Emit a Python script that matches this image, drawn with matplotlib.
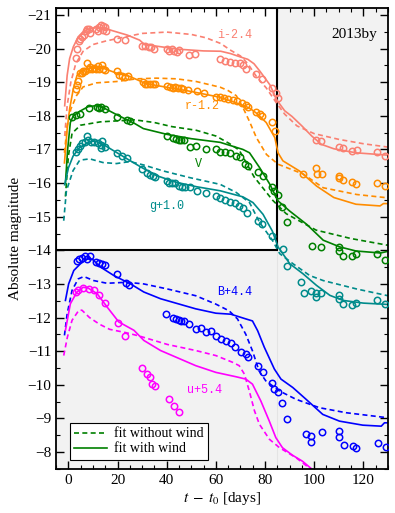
import matplotlib
matplotlib.use("Agg")
import matplotlib.pyplot as plt
from matplotlib.patches import Rectangle
from matplotlib.ticker import MultipleLocator

plt.rcParams['font.family'] = ['Liberation Serif', 'DejaVu Serif']
plt.rcParams['mathtext.fontset'] = 'stix'

# observed photometry (days since explosion, absolute magnitude incl. offset)
i_t = [3.0, 3.5, 4.4, 4.9, 5.7, 6.5, 7.1, 7.6, 8.4, 8.7, 11.4, 12.0, 12.5, 13.3, 13.9, 14.1, 15.0, 15.2,
       19.9, 22.9, 29.9, 31.3, 32.7, 33.7, 34.8, 40.0, 41.1, 42.2, 43.0, 44.1, 44.9, 49.0, 51.7, 61.8,
       63.9, 65.9, 67.8, 69.7, 71.0, 72.4, 76.5, 78.9, 83.0, 84.4, 85.2, 100.7, 102.9, 110.0, 111.8,
       115.6, 117.3, 125.7, 129.0]
i_m = [-19.72, -20.0, -20.22, -20.29, -20.35, -20.39, -20.51, -20.57, -20.59, -20.47, -20.57, -20.51,
       -20.63, -20.69, -20.67, -20.55, -20.63, -20.51, -20.29, -20.24, -20.08, -20.08, -20.06, -20.04,
       -20.0, -20.0, -19.94, -19.98, -19.94, -19.9, -19.96, -19.8, -19.84, -19.7, -19.64, -19.6, -19.58,
       -19.56, -19.5, -19.4, -19.24, -19.1, -18.83, -18.69, -18.53, -17.28, -17.26, -17.08, -17.04,
       -16.94, -16.98, -16.92, -16.8]

r_t = [3.0, 3.5, 4.1, 4.6, 5.4, 6.0, 6.8, 7.6, 8.2, 8.7, 9.5, 10.3, 11.2, 12.0, 12.5, 13.6, 14.1, 15.0,
       19.9, 20.4, 21.8, 23.1, 24.2, 30.2, 31.0, 32.1, 33.2, 34.3, 35.4, 40.3, 41.4, 42.4, 43.5, 44.4,
       45.7, 46.8, 48.7, 52.2, 55.0, 59.9, 61.8, 63.4, 65.0, 66.9, 68.6, 70.5, 72.1, 73.2, 76.5, 77.8,
       78.9, 83.0, 84.1, 95.5, 100.7, 101.2, 103.1, 110.0, 110.3, 111.8, 115.6, 117.0, 125.7, 129.0]
r_m = [-18.81, -18.92, -19.04, -19.26, -19.28, -19.34, -19.34, -19.56, -19.40, -19.46, -19.38, -19.42,
       -19.38, -19.48, -19.40, -19.50, -19.38, -19.36, -19.32, -19.22, -19.18, -19.16, -19.18, -19.02,
       -18.96, -18.96, -18.96, -18.94, -18.94, -18.90, -18.85, -18.83, -18.86, -18.83, -18.83, -18.79,
       -18.77, -18.73, -18.67, -18.55, -18.55, -18.53, -18.49, -18.47, -18.43, -18.39, -18.33, -18.25,
       -18.11, -18.05, -17.99, -17.81, -17.55, -16.28, -16.44, -16.26, -16.26, -16.20, -16.14, -16.10,
       -16.02, -15.96, -16.0, -15.92]

V_t = [1.6, 3.3, 4.6, 8.3, 11.7, 12.4, 13.1, 15.1, 19.9, 24.0, 25.0, 40.0, 42.7, 43.8, 44.9, 46.0, 47.1,
       49.3, 52.0, 56.1, 59.9, 61.8, 63.9, 65.8, 68.0, 69.9, 71.8, 72.9, 77.0, 79.2, 83.0, 83.8, 85.2,
       87.1, 89.0, 99.0, 102.9, 110.0, 110.0, 111.8, 115.6, 117.0, 125.7, 129.0]
V_m = [-17.95, -18.02, -18.05, -18.22, -18.27, -18.22, -18.25, -18.2, -17.97, -17.87, -17.85, -17.41,
       -17.33, -17.31, -17.29, -17.29, -17.27, -17.06, -17.10, -17.02, -17.0, -16.92, -16.92, -16.90,
       -16.80, -16.78, -16.58, -16.52, -16.34, -16.22, -15.88, -15.76, -15.64, -15.30, -14.85, -14.12,
       -14.10, -14.10, -13.98, -13.84, -13.84, -13.88, -13.88, -13.72]

g_t = [3.0, 3.8, 4.6, 5.7, 6.8, 7.6, 7.9, 9.3, 10.6, 11.9, 13.1, 13.6, 13.1, 15.0, 19.9, 21.8, 23.9,
       29.9, 31.8, 33.2, 34.3, 35.1, 40.0, 41.1, 42.2, 43.5, 45.2, 46.3, 47.3, 49.3, 52.2, 56.1, 59.9,
       61.8, 63.9, 65.8, 67.7, 69.6, 71.0, 72.6, 77.0, 78.9, 83.0, 87.2, 89.0, 94.7, 95.8, 98.8, 100.6,
       100.9, 102.9, 110.0, 110.3, 111.8, 115.6, 117.0, 125.7, 129.0]
g_m = [-16.92, -17.02, -17.10, -17.18, -17.22, -17.39, -17.27, -17.23, -17.23, -17.20, -17.14, -17.26,
       -17.04, -17.06, -16.88, -16.80, -16.74, -16.41, -16.31, -16.25, -16.21, -16.17, -16.07, -15.99,
       -15.99, -16.01, -15.91, -15.89, -15.87, -15.87, -15.77, -15.71, -15.61, -15.57, -15.49, -15.45,
       -15.41, -15.33, -15.25, -15.11, -14.87, -14.77, -14.44, -14.05, -13.53, -13.07, -12.72, -12.78,
       -12.72, -12.60, -12.72, -12.66, -12.56, -12.40, -12.38, -12.42, -12.52, -12.40]

B_t = [3.5, 4.4, 5.7, 6.8, 7.6, 8.7, 11.4, 12.5, 13.6, 15.0, 19.9, 23.4, 24.8, 39.7, 42.7, 43.8, 44.9,
       46.0, 47.1, 49.0, 52.0, 53.9, 55.9, 57.9, 60.0, 62.0, 64.1, 66.1, 67.9, 70.2, 72.2, 72.9, 77.0,
       79.0, 82.9, 83.8, 85.2, 87.0, 89.0, 96.7, 98.8, 98.8, 103.3, 110.1, 110.1, 112.0, 115.8, 117.2,
       126.0, 129.1]
B_m = [-13.68, -13.74, -13.78, -13.82, -13.74, -13.84, -13.64, -13.62, -13.60, -13.56, -13.30, -13.04,
       -12.98, -12.11, -11.99, -11.97, -11.93, -11.91, -11.91, -11.81, -11.67, -11.69, -11.57, -11.60,
       -11.44, -11.37, -11.30, -11.24, -11.12, -10.97, -10.92, -10.84, -10.57, -10.37, -10.05, -9.88,
       -9.78, -9.45, -8.99, -8.54, -8.49, -8.29, -8.59, -8.62, -8.46, -8.21, -8.19, -8.12, -8.26, -8.14]

u_t = [2.9, 3.8, 6.0, 8.3, 10.3, 12.4, 15.1, 20.1, 23.0, 30.1, 31.8, 33.2, 34.2, 35.1, 41.0, 43.0, 45.0]
u_m = [-12.76, -12.83, -12.88, -12.86, -12.81, -12.68, -12.43, -11.84, -11.46, -10.50, -10.31, -10.23,
       -10.03, -9.96, -9.59, -9.37, -9.19]

# model light curves: with wind (solid) and without wind (dashed)
i_wind_t = [-1.5, -0.5, 0.5, 2, 4, 6, 9, 12, 15, 18, 24, 29, 31, 35, 45, 55, 62, 66, 70, 73, 75.5, 78,
            82, 85, 88, 91, 95, 99, 103, 108, 117, 130]
i_wind_m = [-18.3, -19.2, -19.7, -20.05, -20.35, -20.5, -20.6, -20.62, -20.6, -20.53, -20.4, -20.25,
            -20.12, -20.08, -19.98, -19.93, -19.92, -19.85, -19.75, -19.68, -19.55, -19.32, -18.92,
            -18.45, -18.15, -17.98, -17.7, -17.4, -17.15, -17.02, -16.9, -16.83]
i_nowind_t = [-1.5, -0.5, 1, 3, 6, 10, 15, 20, 30, 40, 50, 56, 62, 66, 70, 73, 76.5, 80.5, 84.5, 88,
              93, 100, 110, 120, 130]
i_nowind_m = [-17.4, -18.3, -19.0, -19.55, -19.92, -20.12, -20.22, -20.3, -20.45, -20.49, -20.42,
              -20.32, -20.15, -19.95, -19.78, -19.55, -19.17, -18.83, -18.4, -18.05, -17.7, -17.47,
              -17.3, -17.17, -17.07]

r_wind_t = [-1.6, -0.5, 0.5, 2, 3.5, 6, 9, 14, 19.6, 25, 29, 31, 36, 49.5, 61.8, 69.7, 73.7, 76.5, 80.5,
            84, 85.3, 87.3, 94, 101, 108, 117, 126.8, 128.2, 130]
r_wind_m = [-16.6, -17.6, -18.2, -18.8, -19.2, -19.35, -19.42, -19.42, -19.27, -19.17, -19.04, -18.97,
            -18.9, -18.73, -18.55, -18.35, -18.23, -18.08, -17.8, -17.35, -16.9, -16.66, -16.36, -15.91,
            -15.57, -15.37, -15.32, -15.39, -15.39]
r_nowind_t = [-1.6, -0.5, 1, 3.3, 6, 11.4, 19.6, 27.8, 35.9, 44, 52, 61.8, 65, 68.3, 71, 73.7, 76.5,
              80.6, 85.3, 95.5, 103.7, 117.3, 130]
r_nowind_m = [-16.9, -17.7, -18.2, -18.6, -18.86, -18.98, -19.02, -19.1, -19.12, -19.1, -19.02, -18.85,
              -18.75, -18.6, -18.25, -17.83, -17.35, -16.85, -16.56, -16.27, -15.86, -15.66, -15.56]

V_wind_t = [-1.2, -0.3, 0.8, 2, 5, 8, 11, 14, 20, 27, 30.5, 40, 50, 61.8, 71, 73.7, 77.8, 82, 85.3, 90,
            97, 103.7, 110.5, 117, 127, 130]
V_wind_m = [-16.0, -17.0, -17.8, -18.0, -18.15, -18.27, -18.3, -18.25, -18.02, -17.77, -17.62, -17.45,
            -17.32, -17.21, -17.0, -16.9, -16.46, -15.96, -15.47, -15.17, -14.77, -14.3, -14.1, -13.98,
            -13.92, -13.97]
V_nowind_t = [-1.2, 0, 1.5, 4.9, 13, 27, 35, 42, 52, 60, 65.4, 69.5, 75.6, 83.1, 88.6, 100.8, 115, 130]
V_nowind_m = [-15.6, -16.8, -17.48, -17.72, -17.82, -17.88, -17.8, -17.68, -17.57, -17.4, -17.18,
              -16.98, -16.18, -15.49, -15.09, -14.6, -14.35, -14.15]

g_wind_t = [-1.5, 0, 1.9, 4.6, 8.7, 11, 14.1, 19.6, 26.4, 29.9, 35.9, 44.1, 52.2, 61.8, 71, 75.1, 79.2,
            83, 85.3, 90.1, 95.5, 100.9, 106.4, 111.8, 120, 130]
g_wind_m = [-15.95, -16.45, -16.8, -17.06, -17.23, -17.25, -17.15, -16.91, -16.61, -16.46, -16.22,
            -16.02, -15.89, -15.77, -15.59, -15.42, -15.07, -14.57, -14.1, -13.6, -13.3, -12.96, -12.66,
            -12.51, -12.43, -12.39]
g_nowind_t = [-1.9, -0.8, 1.9, 4.6, 8.7, 14.1, 19.6, 25, 30.5, 38.6, 49.5, 61.8, 68.3, 73.7, 77.8, 83,
              86, 91.4, 98.2, 103.7, 117.3, 130]
g_nowind_m = [-14.88, -15.77, -16.37, -16.68, -16.72, -16.61, -16.58, -16.64, -16.54, -16.36, -16.16,
              -15.96, -15.72, -15.42, -14.83, -14.3, -13.9, -13.6, -13.25, -13.1, -12.85, -12.65]

B_wind_t = [-1.2, 0.1, 2.2, 4.9, 8.3, 10, 13.1, 18.5, 25.3, 30.7, 37.5, 51.8, 60, 66.1, 72.2, 74.9, 77,
            79.7, 83.8, 86.5, 91.3, 96.7, 103.5, 110.3, 119.8, 127.3, 128.6, 130]
B_wind_m = [-12.51, -13.0, -13.4, -13.6, -13.77, -13.72, -13.5, -13.25, -13.0, -12.76, -12.56, -12.26,
            -12.13, -12.1, -11.96, -11.9, -11.61, -11.12, -10.47, -10.17, -9.92, -9.57, -9.12, -8.92,
            -8.8, -8.77, -8.87, -8.87]
B_nowind_t = [-1.6, -0.5, 1.5, 4, 6.3, 10.3, 15.7, 23.9, 30.7, 40.3, 51.8, 60, 65.4, 68.8, 72.2, 74.9,
              77.6, 80.3, 85.8, 92.6, 102.1, 113, 130]
B_nowind_m = [-11.47, -12.11, -12.81, -13.15, -13.22, -13.1, -13.02, -13.05, -13.0, -12.85, -12.65,
              -12.4, -12.2, -11.96, -11.5, -11.01, -10.41, -10.12, -9.82, -9.57, -9.32, -9.17, -9.02]

u_wind_t = [-1.2, 0.8, 3.5, 6, 8, 11.7, 15.8, 20.5, 26.7, 30.7, 37.5, 51.8, 60, 68.2, 72.2, 74.9, 78.3,
            81.7, 84.4, 87.1, 91.1, 95.2, 99.3, 101]
u_wind_m = [-11.62, -12.41, -12.76, -12.9, -12.88, -12.71, -12.31, -11.87, -11.62, -11.32, -11.02,
            -10.57, -10.37, -10.24, -10.17, -10.02, -9.52, -8.93, -8.43, -8.13, -7.91, -7.73, -7.48, -7.3]
u_nowind_t = [-1.9, -0.4, 1.5, 4.2, 5.5, 8.6, 12.7, 16.8, 23.5, 28.9, 40.3, 51.8, 60, 66.8, 69.5, 71.6,
              73.6, 75.7, 77.7, 81.8, 85.9, 92.7, 98.8, 100]
u_nowind_m = [-10.87, -11.42, -11.92, -12.21, -12.22, -12.0, -11.8, -11.65, -11.55, -11.45, -11.2,
              -11.02, -10.87, -10.67, -10.57, -10.32, -9.82, -9.23, -8.83, -8.38, -8.13, -7.83, -7.48, -7.4]

bands = [
    ('i-2.4', '#fa8072', i_t, i_m, i_wind_t, i_wind_m, i_nowind_t, i_nowind_m, (67.7, -20.40)),
    ('r-1.2', '#ff8c00', r_t, r_m, r_wind_t, r_wind_m, r_nowind_t, r_nowind_m, (54.3, -18.28)),
    ('V', '#008000', V_t, V_m, V_wind_t, V_wind_m, V_nowind_t, V_nowind_m, (52.9, -16.58)),
    ('g+1.0', '#008b8b', g_t, g_m, g_wind_t, g_wind_m, g_nowind_t, g_nowind_m, (39.9, -15.32)),
    ('B+4.4', '#0000ff', B_t, B_m, B_wind_t, B_wind_m, B_nowind_t, B_nowind_m, (67.6, -12.76)),
    ('u+5.4', '#ff00ff', u_t, u_m, u_wind_t, u_wind_m, u_nowind_t, u_nowind_m, (55.5, -9.86)),
]

fig = plt.figure(figsize=(3.95, 5.13), dpi=100)
ax = fig.add_axes([0.142, 0.086, 0.840, 0.898])
ax.set_facecolor('#f2f2f2')

# white box for the plateau region
ax.add_patch(Rectangle((-5, -21.2), 90, 7.2, facecolor='white', edgecolor='black', lw=1.5, zorder=0.5))
ax.axvline(85, color='#e4e4e4', lw=0.8, zorder=0.4)

for name, col, t, m, wt, wm, nt, nm, pos in bands:
    ax.plot(wt, wm, '-', color=col, lw=1.2, zorder=2)
    ax.plot(nt, nm, '--', color=col, lw=1.2, dashes=(3, 2), zorder=2)
    ax.plot(t, m, 'o', mfc='none', mec=col, ms=4.6, mew=1.1, zorder=3)
    ax.text(pos[0], pos[1], name, color=col, family=['Liberation Mono', 'DejaVu Sans Mono'],
            fontsize=8.5, ha='center', va='center', zorder=4)

ax.plot([], [], '--', color='#008000', lw=1.2, dashes=(3, 2), label='fit without wind')
ax.plot([], [], '-', color='#008000', lw=1.2, label='fit with wind')
leg = ax.legend(loc='lower left', fontsize=10, fancybox=False, framealpha=1, edgecolor='black',
                handlelength=2.4, borderpad=0.3, labelspacing=0.15, handletextpad=0.5,
                bbox_to_anchor=(0.02, 0.005))
leg.get_frame().set_linewidth(0.8)

ax.text(125.5, -20.43, '2013by', fontsize=11, ha='right', va='center')

ax.set_xlim(-5, 130)
ax.set_ylim(-7.5, -21.2)
ax.xaxis.set_major_locator(MultipleLocator(20))
ax.xaxis.set_minor_locator(MultipleLocator(5))
ax.yaxis.set_major_locator(MultipleLocator(1))
ax.yaxis.set_minor_locator(MultipleLocator(0.5))
ax.tick_params(which='both', direction='in', top=True, right=True, labelsize=11)
ax.tick_params(which='major', length=6, width=1)
ax.tick_params(which='minor', length=3, width=0.8)
for s in ax.spines.values():
    s.set_linewidth(1.3)

ax.set_xlabel(r'$t\;-\;t_0$ [days]', fontsize=11, labelpad=2)
ax.set_ylabel('Absolute magnitude', fontsize=11, labelpad=4)

plt.savefig('out.png', dpi=100)
